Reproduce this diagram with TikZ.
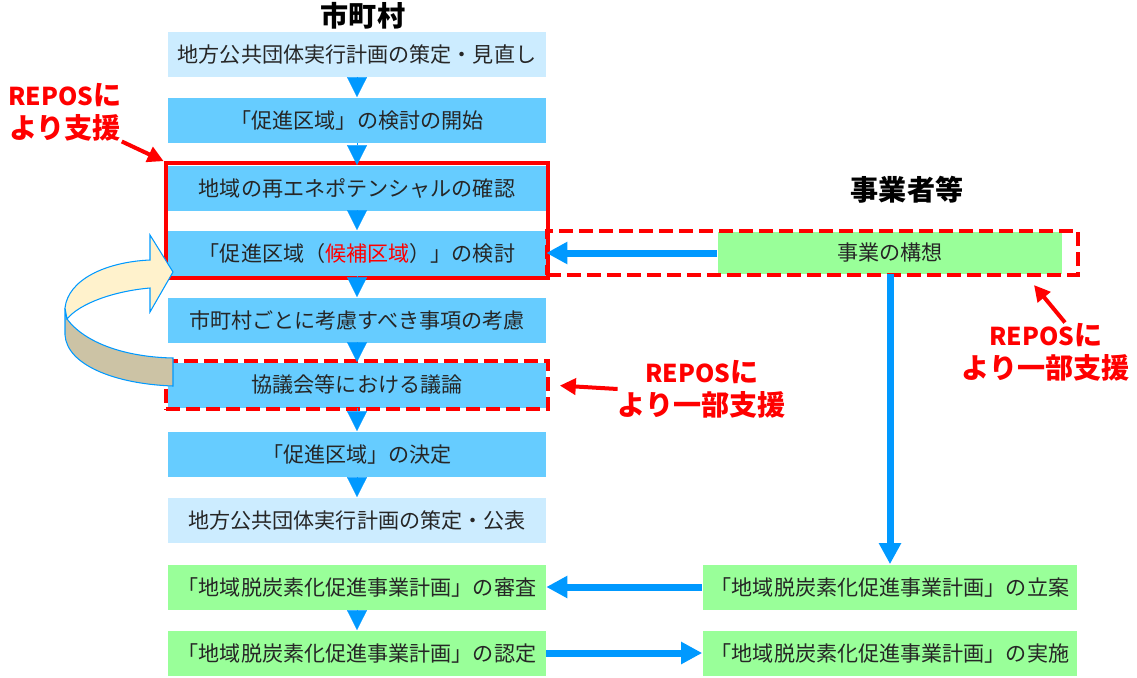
\documentclass[tikz,border=0pt]{standalone}
\usepackage{fontspec}
\setmainfont{Noto Sans CJK JP}
\usepackage{xcolor}
\usepackage{tikz}
\usetikzlibrary{arrows.meta,fit}

\definecolor{lightbox}{HTML}{CCECFF}
\definecolor{midbox}{HTML}{66CCFF}
\definecolor{greenbox}{HTML}{99FF99}
\definecolor{flowblue}{HTML}{0099FF}
\definecolor{reposred}{HTML}{FF0000}
\definecolor{ribbontop}{HTML}{FFF2CC}
\definecolor{ribbonside}{HTML}{CCC3A5}
\newcommand{\repos}{{\fontsize{14}{19}\selectfont REPOS}に}

\begin{document}
\begin{tikzpicture}[x=0.02cm,y=-0.02cm,
  stepbox/.style={fill=midbox,minimum width=7.56cm,minimum height=0.9cm,inner sep=0pt,
    text=black!85,font=\fontsize{12}{14}\selectfont},
  planbox/.style={stepbox,fill=lightbox},
  bizbox/.style={stepbox,fill=greenbox},
  headline/.style={font=\fontsize{16}{19}\selectfont\bfseries},
  repos/.style={text=reposred,align=center,inner sep=0pt,font=\fontsize{16}{19}\selectfont\bfseries},
  redframe/.style={draw=reposred,line width=2.3pt,inner sep=0.04cm},
  dashframe/.style={draw=reposred,line width=2.3pt,dash pattern=on 0.28cm off 0.12cm},
  flowtip/.style={draw=flowblue,line width=0.1pt,-{Triangle[length=0.4cm,width=0.4cm]}},
  flowarrow/.style={draw=flowblue,line width=0.14cm,-{Triangle[length=0.42cm,width=0.42cm]}},
  reposarrow/.style={draw=reposred,line width=0.08cm,-{Triangle[length=0.32cm,width=0.32cm]}}]
\useasboundingbox (0,0) rectangle (1137,677);

\node[headline] (city) at (363,16) {市町村};
\node[headline] (firm) at (907,190) {事業者等};

\node[planbox] (plan) at (357,54) {地方公共団体実行計画の策定・見直し};
\node[stepbox] (start) at (357,120) {「促進区域」の検討の開始};
\node[stepbox] (potential) at (357,188) {地域の再エネポテンシャルの確認};
\node[stepbox] (candidate) at (357,253) {「促進区域（\textcolor{reposred}{候補区域}）」の検討};
\node[stepbox] (local) at (357,320) {市町村ごとに考慮すべき事項の考慮};
\node[stepbox] (council) at (357,385) {協議会等における議論};
\node[stepbox] (decide) at (357,454) {「促進区域」の決定};
\node[planbox] (publish) at (357,520) {地方公共団体実行計画の策定・公表};
\node[bizbox] (review) at (357,587) {「地域脱炭素化促進事業計画」の審査};
\node[bizbox] (approve) at (357,653) {「地域脱炭素化促進事業計画」の認定};

\node[bizbox,minimum width=6.9cm,minimum height=0.84cm] (concept) at (890,253) {事業の構想};
\node[bizbox,minimum width=7.5cm] (draft) at (890,587) {「地域脱炭素化促進事業計画」の立案};
\node[bizbox,minimum width=7.5cm] (carry) at (890,653) {「地域脱炭素化促進事業計画」の実施};

\node[redframe,fit=(potential)(candidate)] (supportfull) {};
\node[dashframe,fit=(council),inner sep=0.03cm] (supportcouncil) {};
\coordinate (conceptnw) at (547,231);
\coordinate (conceptse) at (1078,275);
\node[dashframe,fit=(conceptnw)(conceptse),inner sep=0pt] (supportconcept) {};

\foreach \a/\b in {plan/start,start/potential,potential/candidate,candidate/local,
  local/council,council/decide,decide/publish,review/approve}
  \draw[flowtip] (\a) -- (\b);

\draw[flowarrow] (concept) -- (candidate);
\draw[flowarrow] (concept) -- (draft);
\draw[flowarrow] (draft) -- (review);
\draw[flowarrow] (approve) -- (carry);

\node[repos] (reposfull) at (65,112) {\repos\\より支援};
\node[repos] (reposcouncil) at (702,389) {\repos\\より一部支援};
\node[repos] (reposconcept) at (1046,352) {\repos\\より一部支援};
\coordinate (conceptmark) at (1034,285);

\draw[reposarrow] (reposfull.south east) -- (supportfull.north west);
\draw[reposarrow,shorten >=0.2cm] (reposcouncil.west) -- (supportcouncil.east);
\draw[reposarrow] ([xshift=0.38cm]reposconcept.north) -- (conceptmark);

\draw[draw=flowblue,line width=0.6pt,fill=ribbonside]
  (67,319) .. controls (85,343) and (125,357) .. (173,358) -- (173,386)
  .. controls (115,384) and (67,365) .. (65,335) -- (65,308) -- cycle;
\draw[draw=flowblue,line width=0.6pt,fill=ribbontop]
  (150,235) -- (173,272) -- (150,312) -- (150,288)
  .. controls (115,291) and (80,303) .. (67,319) -- (65,308)
  .. controls (68,280) and (105,262) .. (150,260) -- cycle;
\end{tikzpicture}
\end{document}
